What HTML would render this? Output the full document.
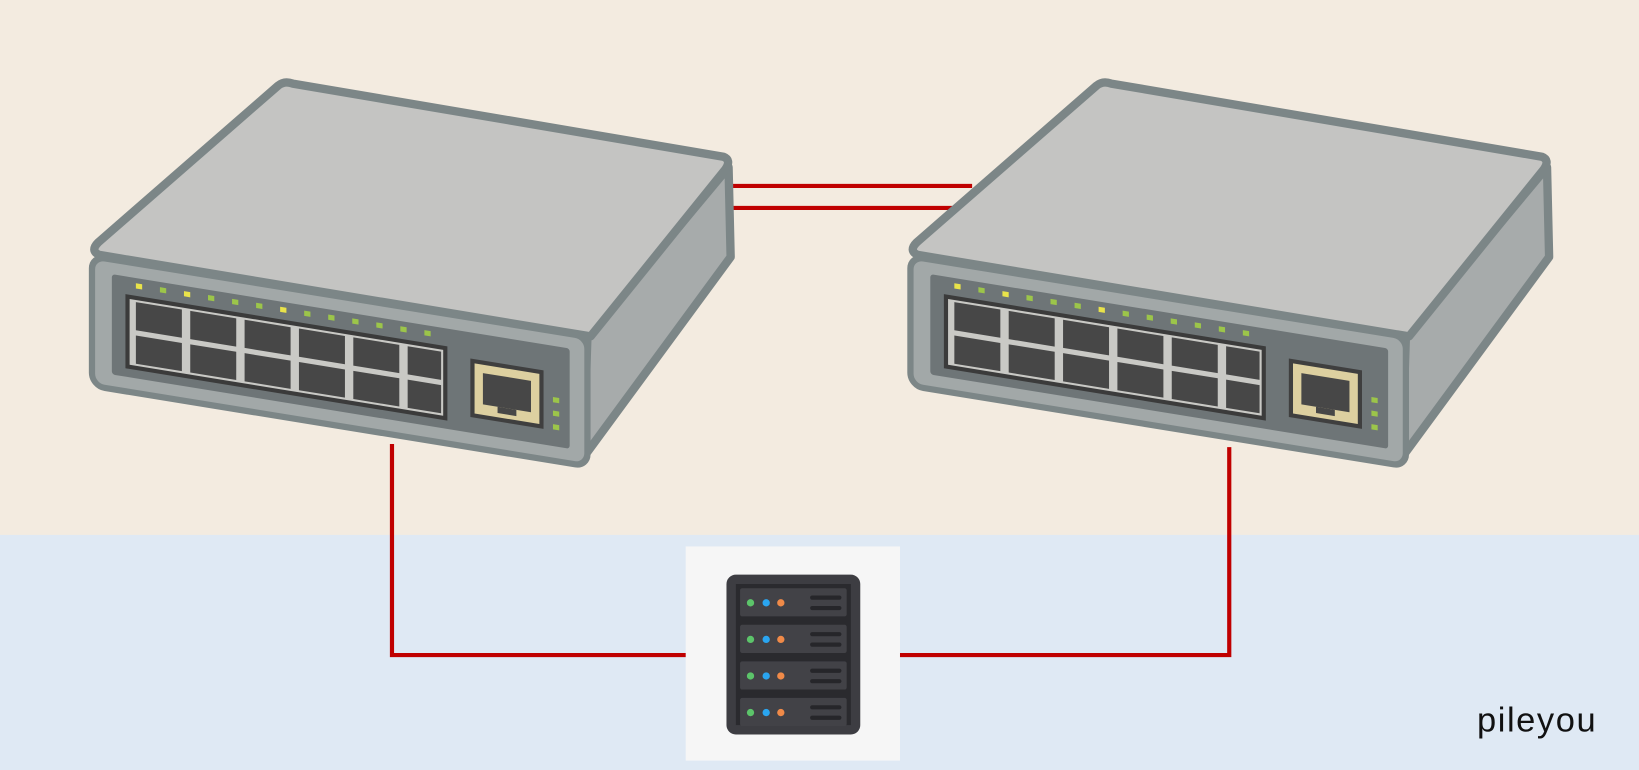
<!DOCTYPE html>
<html><head><meta charset="utf-8"><style>
html,body{margin:0;padding:0;width:1639px;height:770px;overflow:hidden;background:#f3ebe0}
svg{display:block}
</style></head><body>
<svg width="1639" height="770" viewBox="0 0 1568 737" preserveAspectRatio="none" xmlns="http://www.w3.org/2000/svg">
<rect x="0" y="0" width="1568" height="512" fill="#f3ebe0"/>
<rect x="0" y="512" width="1568" height="225" fill="#dfe9f4"/>
<g stroke="#c00000" stroke-width="4" fill="none">
<line x1="700" y1="178" x2="930" y2="178"/>
<line x1="700" y1="199" x2="911" y2="199"/>
<polyline points="375,425 375,627 657,627"/>
<polyline points="860,627 1176,627 1176,428"/>
</g>
<defs>
<g id="sw">
<polygon points="562,322 697,160 699,246 558,438" fill="#a7abab" stroke="#7c8687" stroke-width="8" stroke-linejoin="round"/>
<path d="M280,80 L692,150 Q700,153 694,162 L565,322 L95,244 Q86,240 94,232 L266,82 Q272,77 280,80 Z" fill="#c4c4c2" stroke="#7c8687" stroke-width="8" stroke-linejoin="round"/>
<g transform="skewY(9.23)">
<rect x="88" y="231" width="474" height="124" rx="12" fill="#a2a8a8" stroke="#7c8687" stroke-width="6"/>
<rect x="107" y="245" width="438" height="96" rx="3" fill="#6e7577"/>
<rect x="120" y="262" width="308" height="71" fill="#3b3b3b"/>
<rect x="124" y="266" width="300" height="63" fill="#c9c9c5"/>
<g fill="#474747">
<rect x="130" y="268" width="44" height="27"/><rect x="130" y="300" width="44" height="27"/>
<rect x="182" y="268" width="44" height="27"/><rect x="182" y="300" width="44" height="27"/>
<rect x="234" y="268" width="44" height="27"/><rect x="234" y="300" width="44" height="27"/>
<rect x="286" y="268" width="44" height="27"/><rect x="286" y="300" width="44" height="27"/>
<rect x="338" y="268" width="44" height="27"/><rect x="338" y="300" width="44" height="27"/>
<rect x="390" y="268" width="32" height="27"/><rect x="390" y="300" width="32" height="27"/>
</g>
<g>
<rect x="130" y="250" width="6" height="5" fill="#e9e34a"/>
<rect x="153" y="250" width="6" height="5" fill="#9cc54a"/>
<rect x="176" y="250" width="6" height="5" fill="#e9e34a"/>
<rect x="199" y="250" width="6" height="5" fill="#9cc54a"/>
<rect x="222" y="250" width="6" height="5" fill="#9cc54a"/>
<rect x="245" y="250" width="6" height="5" fill="#9cc54a"/>
<rect x="268" y="250" width="6" height="5" fill="#e9e34a"/>
<rect x="291" y="250" width="6" height="5" fill="#9cc54a"/>
<rect x="314" y="250" width="6" height="5" fill="#9cc54a"/>
<rect x="337" y="250" width="6" height="5" fill="#9cc54a"/>
<rect x="360" y="250" width="6" height="5" fill="#9cc54a"/>
<rect x="383" y="250" width="6" height="5" fill="#9cc54a"/>
<rect x="406" y="250" width="6" height="5" fill="#9cc54a"/>
</g>
<rect x="450" y="270" width="70" height="56" fill="#3f3f3f"/>
<rect x="454" y="274" width="62" height="48" fill="#ddd0a0"/>
<rect x="462" y="282" width="46" height="30" fill="#474747"/>
<rect x="476" y="312" width="18" height="6" fill="#474747"/>
<rect x="529" y="294" width="6" height="5" fill="#9cc54a"/>
<rect x="529" y="307" width="6" height="5" fill="#9cc54a"/>
<rect x="529" y="320" width="6" height="5" fill="#9cc54a"/>
</g>
</g>
</defs>
<use href="#sw"/>
<use href="#sw" transform="translate(783,0)"/>
<rect x="656" y="523" width="205" height="205" fill="#f6f6f6"/>
<rect x="695" y="550" width="128" height="153" rx="9" fill="#3d3d42"/>
<rect x="704" y="559" width="110" height="135" fill="#2a2a2e"/>
<g fill="#424247">
<rect x="708" y="563" width="102" height="27" rx="2"/>
<rect x="708" y="598" width="102" height="27" rx="2"/>
<rect x="708" y="633" width="102" height="27" rx="2"/>
<rect x="708" y="668" width="102" height="27" rx="2"/>
</g>
<g>
<circle cx="718" cy="577" r="3.5" fill="#5cc46a"/><circle cx="733" cy="577" r="3.5" fill="#2aa5f0"/><circle cx="747" cy="577" r="3.5" fill="#f08a48"/>
<circle cx="718" cy="612" r="3.5" fill="#5cc46a"/><circle cx="733" cy="612" r="3.5" fill="#2aa5f0"/><circle cx="747" cy="612" r="3.5" fill="#f08a48"/>
<circle cx="718" cy="647" r="3.5" fill="#5cc46a"/><circle cx="733" cy="647" r="3.5" fill="#2aa5f0"/><circle cx="747" cy="647" r="3.5" fill="#f08a48"/>
<circle cx="718" cy="682" r="3.5" fill="#5cc46a"/><circle cx="733" cy="682" r="3.5" fill="#2aa5f0"/><circle cx="747" cy="682" r="3.5" fill="#f08a48"/>
</g>
<g stroke="#26262a" stroke-width="4" stroke-linecap="round">
<line x1="777" y1="572" x2="803" y2="572"/><line x1="777" y1="582" x2="803" y2="582"/>
<line x1="777" y1="607" x2="803" y2="607"/><line x1="777" y1="617" x2="803" y2="617"/>
<line x1="777" y1="642" x2="803" y2="642"/><line x1="777" y1="652" x2="803" y2="652"/>
<line x1="777" y1="677" x2="803" y2="677"/><line x1="777" y1="687" x2="803" y2="687"/>
</g>
<text x="1413" y="700" font-family="Liberation Sans, sans-serif" font-size="33" letter-spacing="1.5" fill="#111">pileyou</text>
</svg>
</body></html>
